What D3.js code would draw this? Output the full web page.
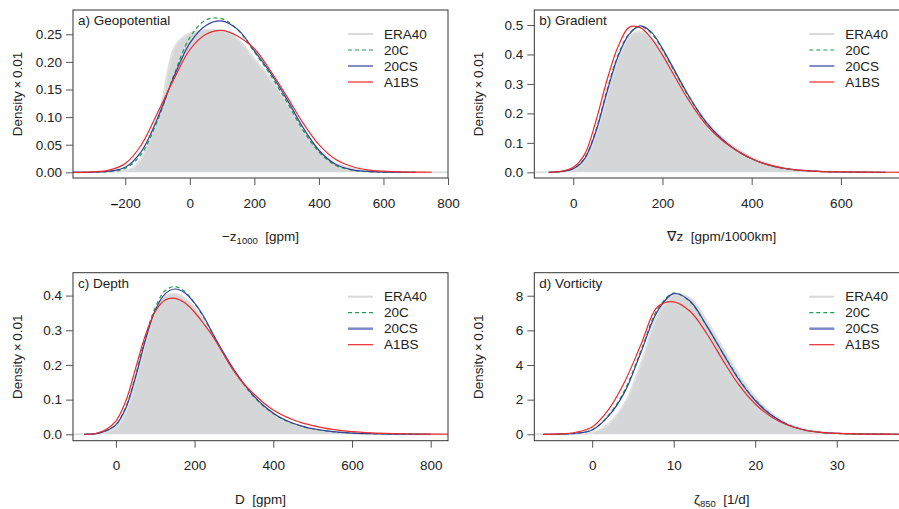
<!DOCTYPE html>
<html>
<head>
<meta charset="utf-8">
<script src="https://cdn.jsdelivr.net/npm/d3@7"></script>
<style>
body { margin: 0; background: #fff; }
svg text { font-family: "Liberation Sans", Arial, Helvetica, sans-serif; fill: #222; }
</style>
</head>
<body>
<div id="chart"></div>
<script>
const width = 899, height = 509;
const panelW = 375, panelH = 168;

const seriesNames = ['ERA40', '20C', '20CS', 'A1BS'];

// a) Geopotential
const geoX = [-400,-350,-300,-250,-200,-150,-100,-50,0,50,100,150,200,250,300,350,400,450,500,550,600,650,700,750];
const geo20C  = [0,0,0.0003,0.0015,0.007,0.033,0.094,0.175,0.244,0.276,0.278,0.257,0.218,0.176,0.128,0.077,0.037,0.013,0.0045,0.0013,0.0004,0.0001,0,null];
const geo20CS = [0,0,0.0005,0.002,0.009,0.038,0.098,0.172,0.234,0.266,0.274,0.258,0.220,0.180,0.133,0.082,0.040,0.015,0.005,0.0016,0.0005,0.0002,0.0001,null];
const geoA1BS = [0,0,0.0008,0.004,0.016,0.050,0.108,0.168,0.222,0.250,0.257,0.246,0.224,0.184,0.138,0.090,0.050,0.024,0.011,0.0045,0.002,0.0008,0.0003,0.0001];
const geoEraX = [-362,-300,-250,-200,-175,-150,-125,-100,-90,-80,-70,-60,-50,-30,0,25,50,75,100,125,150,175,200,225,250,275,300,325,350,375,400,425,450,475,500,550,600,650,700,750,800];
const geoERA40 = [0,0.0003,0.001,0.003,0.008,0.025,0.057,0.097,0.118,0.145,0.178,0.205,0.224,0.240,0.252,0.2565,0.258,0.258,0.256,0.251,0.240,0.224,0.205,0.188,0.170,0.150,0.127,0.103,0.079,0.059,0.041,0.027,0.017,0.011,0.007,0.0025,0.001,0.0004,0.0002,0.0001,0];

// b) Gradient
const gradX = [-55,-25,0,25,50,75,100,125,150,175,200,225,250,275,300,325,350,375,400,425,450,475,500,550,600,650,700,760];
const grad20C  = [0,0.003,0.013,0.048,0.140,0.276,0.396,0.470,0.495,0.472,0.416,0.348,0.280,0.218,0.165,0.125,0.092,0.066,0.046,0.031,0.020,0.013,0.008,0.003,0.001,0.0004,0.0001,null];
const grad20CS = [0,0.003,0.012,0.045,0.135,0.270,0.392,0.468,0.497,0.476,0.420,0.352,0.283,0.220,0.166,0.125,0.092,0.066,0.046,0.031,0.020,0.013,0.008,0.003,0.001,0.0004,0.0001,null];
const gradA1BS = [0,0.004,0.017,0.060,0.170,0.310,0.425,0.492,0.491,0.455,0.398,0.332,0.266,0.208,0.158,0.120,0.090,0.066,0.046,0.031,0.021,0.013,0.008,0.003,0.0012,0.0005,0.0002,0.0001];
const gradEraX = [-90,-55,-25,0,25,50,75,100,125,150,175,200,225,250,275,300,325,350,375,400,425,450,475,500,550,600,650,700,760];
const gradERA40 = [0,0,0.002,0.010,0.040,0.125,0.258,0.380,0.458,0.478,0.456,0.408,0.345,0.280,0.220,0.170,0.130,0.098,0.072,0.051,0.035,0.023,0.015,0.009,0.0035,0.0013,0.0005,0.0002,0];

// c) Depth
const depthX = [-80,-50,-25,0,25,50,75,100,125,150,175,200,225,250,275,300,325,350,375,400,425,450,475,500,550,600,650,700,750,800,850];
const depth20C  = [0,0.002,0.010,0.028,0.078,0.170,0.279,0.366,0.414,0.426,0.412,0.378,0.334,0.281,0.230,0.184,0.144,0.109,0.081,0.060,0.043,0.031,0.022,0.016,0.0075,0.0035,0.0015,0.0006,0.0002,0.0001,null];
const depth20CS = [0,0.002,0.010,0.027,0.075,0.165,0.272,0.358,0.405,0.419,0.408,0.378,0.336,0.282,0.232,0.186,0.146,0.111,0.083,0.061,0.044,0.032,0.023,0.016,0.0075,0.0035,0.0016,0.0007,0.0003,0.0001,null];
const depthA1BS = [0,0.003,0.014,0.038,0.095,0.190,0.286,0.354,0.387,0.392,0.379,0.352,0.316,0.276,0.228,0.182,0.145,0.117,0.091,0.070,0.054,0.042,0.032,0.025,0.014,0.0075,0.004,0.002,0.0008,0.0003,0.0001];
const depthEraX = [-110,-75,-50,-25,0,25,50,75,100,115,125,150,175,200,225,250,275,300,325,350,375,400,425,450,475,500,550,600,650,700,750,850];
const depthERA40 = [0,0,0.001,0.006,0.020,0.062,0.150,0.262,0.355,0.390,0.400,0.405,0.392,0.365,0.326,0.280,0.233,0.188,0.147,0.112,0.083,0.061,0.044,0.031,0.022,0.016,0.008,0.004,0.0018,0.0008,0.0003,0];

// d) Vorticity
const vortX = [-6,-4,-2,0,2,4,6,8,10,12,14,16,18,20,22,24,26,28,30,32,34,36,38,40];
const vort20C  = [0,0.01,0.06,0.26,1.1,2.55,4.85,7.2,8.15,7.65,6.28,4.72,3.2,1.98,1.12,0.56,0.26,0.11,0.05,0.02,0.01,0.004,0.001,0];
const vort20CS = [0,0.01,0.06,0.25,1.05,2.45,4.75,7.1,8.12,7.7,6.3,4.7,3.15,1.95,1.1,0.55,0.25,0.11,0.05,0.02,0.01,0.004,0.001,0];
const vortA1BS = [0,0.02,0.12,0.42,1.42,3.05,5.2,7.35,7.65,7.1,5.85,4.3,2.85,1.75,1.0,0.52,0.25,0.11,0.05,0.02,0.01,0.005,0.002,0.001];
const vortEraX = [-8,-6,-4,-2,0,2,4,6,8,10,12,14,16,18,20,22,24,26,28,30,32,34,36,40];
const vortERA40 = [0,0,0.005,0.02,0.1,0.6,1.8,4.1,6.85,8.05,7.85,6.6,5.0,3.45,2.15,1.22,0.62,0.29,0.13,0.06,0.025,0.01,0.004,0];

const panels = [
  { id: 'a', title: 'a) Geopotential', left: 73, top: 10,
    xDomain: [-362, 800], yDomain: [-0.0103, 0.294],
    xTicks: [-200, 0, 200, 400, 600, 800], yTicks: [0, 0.05, 0.1, 0.15, 0.2, 0.25], yFmt: '.2f',
    x: geoX, c20: geo20C, cs: geo20CS, a1: geoA1BS, eraX: geoEraX, era: geoERA40,
    xlabel: [['\u2212', 0], ['z', 0], ['1000', 1], ['  [gpm]', 0]], thickLegend: false },
  { id: 'b', title: 'b) Gradient', left: 534.3, top: 10,
    xDomain: [-87.4, 753.4], yDomain: [-0.0193, 0.551],
    xTicks: [0, 200, 400, 600], yTicks: [0, 0.1, 0.2, 0.3, 0.4, 0.5], yFmt: '.1f',
    x: gradX, c20: grad20C, cs: grad20CS, a1: gradA1BS, eraX: gradEraX, era: gradERA40,
    xlabel: [['\u2207z  [gpm/1000km]', 0]], thickLegend: false },
  { id: 'c', title: 'c) Depth', left: 73, top: 272.7,
    xDomain: [-109, 844], yDomain: [-0.0185, 0.466],
    xTicks: [0, 200, 400, 600, 800], yTicks: [0, 0.1, 0.2, 0.3, 0.4], yFmt: '.1f',
    x: depthX, c20: depth20C, cs: depth20CS, a1: depthA1BS, eraX: depthEraX, era: depthERA40,
    xlabel: [['D  [gpm]', 0]], thickLegend: true },
  { id: 'd', title: 'd) Vorticity', left: 534.3, top: 272.7,
    xDomain: [-7.1, 38.9], yDomain: [-0.37, 9.33],
    xTicks: [0, 10, 20, 30], yTicks: [0, 2, 4, 6, 8], yFmt: 'd',
    x: vortX, c20: vort20C, cs: vort20CS, a1: vortA1BS, eraX: vortEraX, era: vortERA40,
    xlabel: [['\u03b6', 0], ['850', 1], ['  [1/d]', 0]], thickLegend: true }
];

const colEraFill = '#d5d6d7', colEraLine = '#e0e0e0';
const colGreen = '#1e9e50', colBlue = '#33409c', colRed = '#ee2a2e';
const fontSize = 13.5;

const svg = d3.select('#chart').append('svg')
    .attr('width', width)
    .attr('height', height);
const defs = svg.append('defs');

panels.forEach(p => {
    const right = p.left + panelW, bottom = p.top + panelH;
    const x = d3.scaleLinear().domain(p.xDomain).range([p.left, right]);
    const y = d3.scaleLinear().domain(p.yDomain).range([bottom, p.top]);

    defs.append('clipPath').attr('id', 'clip-' + p.id)
        .append('rect').attr('x', p.left).attr('y', p.top).attr('width', panelW).attr('height', panelH);

    const g = svg.append('g');
    const plot = g.append('g').attr('clip-path', `url(#clip-${p.id})`);

    const eraData = d3.zip(p.eraX, p.era);
    plot.append('path').datum(eraData)
        .attr('d', d3.area().x(d => x(d[0])).y0(y(0)).y1(d => y(d[1])).curve(d3.curveCatmullRom))
        .attr('fill', colEraFill);
    plot.append('path').datum(eraData)
        .attr('d', d3.line().x(d => x(d[0])).y(d => y(d[1])).curve(d3.curveCatmullRom))
        .attr('fill', 'none').attr('stroke', colEraLine).attr('stroke-width', 2);

    const line = d3.line().defined(d => d[1] != null)
        .x(d => x(d[0])).y(d => y(d[1])).curve(d3.curveCatmullRom);
    const series = [
        { vals: p.c20, color: colGreen, dash: '4,3' },
        { vals: p.cs, color: colBlue, dash: null },
        { vals: p.a1, color: colRed, dash: null }
    ];
    series.forEach(s => {
        plot.append('path').datum(d3.zip(p.x, s.vals))
            .attr('d', line)
            .attr('fill', 'none')
            .attr('stroke', s.color)
            .attr('stroke-width', 1.2)
            .attr('stroke-dasharray', s.dash);
    });

    // box
    g.append('rect').attr('x', p.left).attr('y', p.top).attr('width', panelW).attr('height', panelH)
        .attr('fill', 'none').attr('stroke', '#333').attr('stroke-width', 1);

    // axes
    const xAxis = g.append('g').attr('transform', `translate(0,${bottom})`)
        .call(d3.axisBottom(x).tickValues(p.xTicks).tickSize(7).tickPadding(13)
            .tickFormat(d => d < 0 ? String(Math.abs(d)) : String(d)));
    const yAxis = g.append('g').attr('transform', `translate(${p.left},0)`)
        .call(d3.axisLeft(y).tickValues(p.yTicks).tickSize(7).tickPadding(4)
            .tickFormat(d3.format(p.yFmt)));
    [xAxis, yAxis].forEach(ax => {
        ax.select('.domain').remove();
        ax.selectAll('.tick line').attr('stroke', '#555');
        ax.selectAll('text').attr('font-size', fontSize).attr('fill', '#222')
            .attr('font-family', '"Liberation Sans", Arial, sans-serif');
    });
    xAxis.selectAll('.tick text').filter(d => d < 0).each(function(d) {
        const t = d3.select(this);
        t.text(null);
        t.append('tspan').attr('font-weight', 'bold').attr('fill', '#000').text('\u2013');
        t.append('tspan').text(String(Math.abs(d)));
    });

    // y label
    g.append('text')
        .attr('transform', `translate(${p.left - 56},${p.top + panelH / 2}) rotate(-90)`)
        .attr('text-anchor', 'middle').attr('dy', '0.35em').attr('font-size', fontSize)
        .text('Density\u2009\u00d7\u20090.01');

    // x label
    const xl = g.append('text')
        .attr('x', (p.left + right) / 2).attr('y', bottom + 63)
        .attr('text-anchor', 'middle').attr('font-size', fontSize)
        .style('white-space', 'pre');
    let shifted = false;
    p.xlabel.forEach(([t, sub]) => {
        const ts = xl.append('tspan').text(t);
        if (sub) { ts.attr('font-size', 9.5).attr('dy', 3); shifted = true; }
        else if (shifted) { ts.attr('dy', -3); shifted = false; }
    });

    // title
    g.append('text').attr('x', p.left + 5).attr('y', p.top + 15)
        .attr('font-size', fontSize).text(p.title);

    // legend
    const legendStyles = [
        { color: '#d9d9d9', width: 2, dash: null },
        { color: colGreen, width: 1.2, dash: '4,3' },
        p.thickLegend ? { color: '#7f88c6', width: 2.5, dash: null } : { color: colBlue, width: 1.2, dash: null },
        { color: colRed, width: 1.2, dash: null }
    ];
    seriesNames.forEach((name, i) => {
        const ly = p.top + 24 + 16 * i;
        g.append('line').attr('x1', right - 100).attr('x2', right - 75).attr('y1', ly).attr('y2', ly)
            .attr('stroke', legendStyles[i].color).attr('stroke-width', legendStyles[i].width)
            .attr('stroke-dasharray', legendStyles[i].dash);
        g.append('text').attr('x', right - 64).attr('y', ly).attr('dy', '0.35em')
            .attr('font-size', fontSize).text(name);
    });
});
</script>
</body>
</html>
